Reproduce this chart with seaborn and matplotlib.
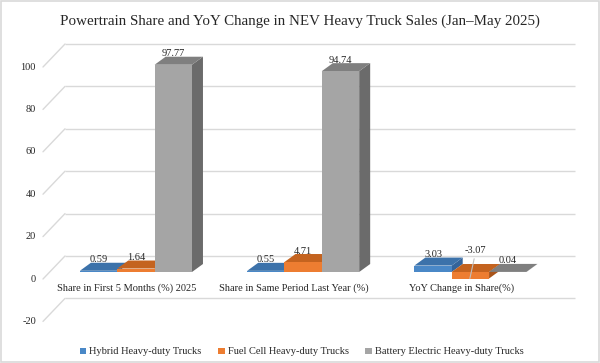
import matplotlib
matplotlib.use("Agg")
import matplotlib.pyplot as plt
from matplotlib.patches import Polygon, Rectangle, Patch
import seaborn as sns
import pandas as pd

# ---- data ----
categories = ["Share in First 5 Months (%) 2025",
              "Share in Same Period Last Year (%)",
              "YoY Change in Share(%)"]
series = ["Hybrid Heavy-duty Trucks",
          "Fuel Cell Heavy-duty Trucks",
          "Battery Electric Heavy-duty Trucks"]
hybrid = [0.59, 0.55, 3.03]
fuel_cell = [1.64, 4.71, -3.07]
battery = [97.77, 94.74, 0.04]
label_text = [["0.59", "0.55", "3.03"],
              ["1.64", "4.71", "-3.07"],
              ["97.77", "94.74", "0.04"]]
yticks = [-20, 0, 20, 40, 60, 80, 100]
title = "Powertrain Share and YoY Change in NEV Heavy Truck Sales (Jan\u2013May 2025)"

values = [hybrid, fuel_cell, battery]
rows = []
for s, vals in zip(series, values):
    for c, v in zip(categories, vals):
        rows.append({"category": c, "series": s, "value": v})
df = pd.DataFrame(rows)

front = ["#4A88C7", "#ED7D31", "#A5A5A5"]
topc = ["#3C72AA", "#C4631F", "#7F7F7F"]
sidec = ["#34649A", "#A9541A", "#6B6B6B"]

sns.set_theme(style="white")
plt.rcParams["font.family"] = ["Liberation Serif", "DejaVu Serif"]

W, H = 600, 363
fig = plt.figure(figsize=(6, 3.63), dpi=100)
fig.patch.set_facecolor("white")
ax_left, ax_right = 49, 559
ax_top, ax_bot = 38.8, 314.4
ax = fig.add_axes([ax_left / W, 1 - ax_bot / H, (ax_right - ax_left) / W, (ax_bot - ax_top) / H])

sns.barplot(data=df, x="category", y="value", hue="series", order=categories,
            hue_order=series, palette=front, width=0.67, saturation=1,
            errorbar=None, legend=False, ax=ax, linewidth=0)
xl, xr = -0.52, 2.53
yl, yh = -20, 110
ax.set_xlim(xl, xr)
ax.set_ylim(yl, yh)
ax.set_axis_off()

pxx = (ax_right - ax_left) / (xr - xl)   # pixels per x unit
pxy = (ax_bot - ax_top) / (yh - yl)      # pixels per y unit

def px2x(p):
    return p / pxx

def px2y(p):
    return p / pxy

grid_c = "#D9D9D9"
txt_c = "#262626"
back = 16
# back wall gridlines, diagonals and tick labels
for v in yticks:
    yb = v + px2y(back)
    ax.plot([xl + px2x(back), xr + px2x(back)], [yb, yb], color=grid_c, lw=1,
            zorder=0.5, clip_on=False, solid_capstyle="butt")
    fx, fy = xl - px2x(6), v - px2y(7)
    ax.plot([xl + px2x(back), fx], [yb, fy], color=grid_c, lw=1, zorder=0.5, clip_on=False)
    ax.text(fx - px2x(7), fy, f"{v}", ha="right", va="center", fontsize=7.5,
            color=txt_c, clip_on=False)

# 3D faces
dx, dy = px2x(11), px2y(8)
for k, cont in enumerate(ax.containers):
    for i, rect in enumerate(cont.patches):
        rect.set_zorder(3 + k)
        x0 = rect.get_x()
        x1 = x0 + rect.get_width()
        y0 = rect.get_y()
        y1 = y0 + rect.get_height()
        yt, yb_ = max(y0, y1), min(y0, y1)
        top = Polygon([(x0, yt), (x1, yt), (x1 + dx, yt + dy), (x0 + dx, yt + dy)],
                      closed=True, fc=topc[k], ec="none", zorder=2.6 + k)
        side = Polygon([(x1, yb_), (x1, yt), (x1 + dx, yt + dy), (x1 + dx, yb_ + dy)],
                       closed=True, fc=sidec[k], ec="none", zorder=2.5 + k)
        ax.add_patch(side)
        ax.add_patch(top)
        cx = x0 + rect.get_width() / 2
        lab = label_text[k][i]
        if rect.get_height() >= 0:
            ax.text(cx, yt + px2y(11), lab, ha="center", va="center", fontsize=7.5,
                    color=txt_c, zorder=10)
        else:
            ax.annotate(lab, xy=(cx - px2x(0.5), yb_), xytext=(cx + px2x(4.5), yt + px2y(21)),
                        ha="center", va="center", fontsize=7.5, color=txt_c, zorder=10,
                        arrowprops=dict(arrowstyle="-", color="#BFBFBF", lw=0.8,
                                        shrinkA=0, shrinkB=0, relpos=(0.5, 0)))

# category labels
for i, c in enumerate(categories):
    ax.text(i - px2x(9), -px2y(16), c, ha="center", va="center", fontsize=7.5,
            color=txt_c, clip_on=False)

fig.text(0.5, 1 - 21 / H, title, ha="center", va="center", fontsize=10.8, color=txt_c)

handles = [Patch(facecolor=c, edgecolor="none", label=s) for c, s in zip(front, series)]
fig.legend(handles=handles, loc="center", bbox_to_anchor=(0.503, 1 - 352 / H), ncol=3,
           frameon=False, fontsize=7.5, handlelength=0.6, handleheight=0.6,
           handletextpad=0.3, columnspacing=1.6, labelcolor=txt_c)

fig.patches.append(Rectangle((0.002, 0.003), 0.996, 0.994, transform=fig.transFigure,
                             fill=False, ec="#D9D9D9", lw=1.2))

fig.savefig("out.png", dpi=100)
